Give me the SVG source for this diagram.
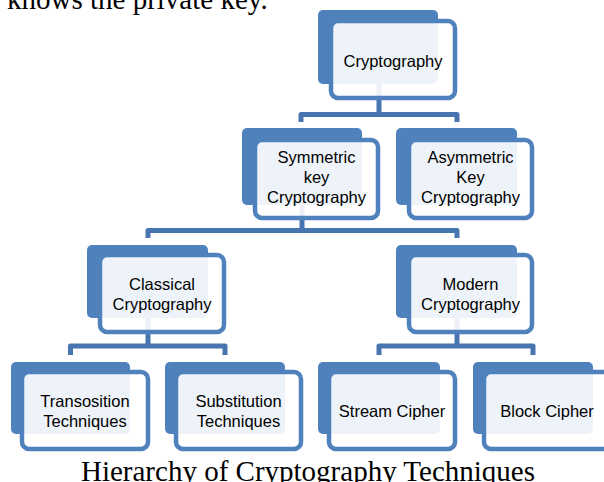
<svg xmlns="http://www.w3.org/2000/svg" width="604" height="482" viewBox="0 0 604 482">
<style>
.bg{fill:#ffffff}
.back{fill:#4F81BD}
.front{fill:#ffffff;fill-opacity:0.9;stroke:#4F81BD;stroke-width:4.5}
.lbl{font-family:"Liberation Sans",Arial,sans-serif;font-size:16.5px;fill:#000000;text-anchor:middle}
.conn{fill:none;stroke:#4775B0;stroke-width:5;stroke-linejoin:round}
.serif{font-family:"Liberation Serif","Times New Roman",serif;font-size:29px;fill:#000000}
</style>
<rect class="bg" x="0" y="0" width="604" height="482"/>
<text class="serif" x="7" y="9">knows the private key.</text>
<g id="connectors">
<path class="conn" d="M379,84 V114.5 M301,122 V114.5 H457 V122"/>
<path class="conn" d="M302,205 V230.5 M148,238 V230.5 H457 V238"/>
<path class="conn" d="M148,318 V346 M70.5,355 V346 H225 V355"/>
<path class="conn" d="M457,318 V346 M379,355 V346 H533 V355"/>
</g>
<g id="n-cryptography">
<rect class="back" x="318" y="10" width="120" height="74" rx="5"/>
<rect class="front" x="331" y="21" width="124" height="77" rx="7"/>
<text class="lbl" x="393" y="67">Cryptography</text>
</g>
<g id="n-symmetric">
<rect class="back" x="242" y="128" width="120" height="77" rx="5"/>
<rect class="front" x="255" y="140" width="123" height="78" rx="7"/>
<text class="lbl" x="316.5" y="163">Symmetric</text>
<text class="lbl" x="316.5" y="183">key</text>
<text class="lbl" x="316.5" y="203">Cryptography</text>
</g>
<g id="n-asymmetric">
<rect class="back" x="396" y="128" width="121" height="77" rx="5"/>
<rect class="front" x="409" y="140" width="123" height="78" rx="7"/>
<text class="lbl" x="470.5" y="163">Asymmetric</text>
<text class="lbl" x="470.5" y="183">Key</text>
<text class="lbl" x="470.5" y="203">Cryptography</text>
</g>
<g id="n-classical">
<rect class="back" x="87" y="245" width="121" height="73" rx="5"/>
<rect class="front" x="100" y="255" width="124" height="77" rx="7"/>
<text class="lbl" x="162" y="290">Classical</text>
<text class="lbl" x="162" y="310">Cryptography</text>
</g>
<g id="n-modern">
<rect class="back" x="396" y="245" width="121" height="73" rx="5"/>
<rect class="front" x="409" y="255" width="123" height="77" rx="7"/>
<text class="lbl" x="470.5" y="290">Modern</text>
<text class="lbl" x="470.5" y="310">Cryptography</text>
</g>
<g id="n-transosition">
<rect class="back" x="11" y="362" width="119" height="72" rx="5"/>
<rect class="front" x="22" y="372" width="126" height="77" rx="7"/>
<text class="lbl" x="85" y="407">Transosition</text>
<text class="lbl" x="85" y="427">Techniques</text>
</g>
<g id="n-substitution">
<rect class="back" x="165" y="362" width="120" height="72" rx="5"/>
<rect class="front" x="176" y="372" width="125" height="77" rx="7"/>
<text class="lbl" x="238.5" y="407">Substitution</text>
<text class="lbl" x="238.5" y="427">Techniques</text>
</g>
<g id="n-stream">
<rect class="back" x="318" y="362" width="122" height="72" rx="5"/>
<rect class="front" x="329" y="372" width="126" height="77" rx="7"/>
<text class="lbl" x="392" y="417">Stream Cipher</text>
</g>
<g id="n-block">
<rect class="back" x="473" y="362" width="120" height="72" rx="5"/>
<rect class="front" x="484" y="372" width="126" height="77" rx="7"/>
<text class="lbl" x="547" y="417">Block Cipher</text>
</g>
<text class="serif" x="308" y="481" text-anchor="middle">Hierarchy of Cryptography Techniques</text>
</svg>
